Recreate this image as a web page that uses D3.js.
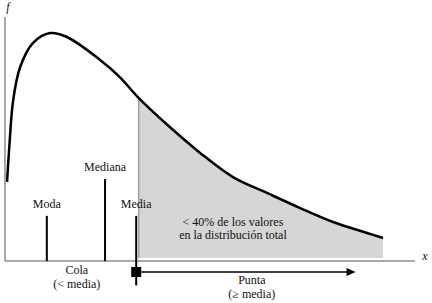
<!DOCTYPE html>
<html><head><meta charset="utf-8">
<script src="https://cdn.jsdelivr.net/npm/d3@7"></script>
<style>body{margin:0;background:#fff}svg{display:block}text{font-family:"Liberation Serif","DejaVu Serif",serif;fill:#111}</style>
</head><body>
<script>
// Density curve (x in arbitrary units 0..10, f in 0..1)
const curveX = [0.05, 0.10, 0.20, 0.37, 0.68, 1.10, 1.51, 2.32, 2.80, 3.24, 4.02, 4.76, 5.56, 6.39, 7.20, 8.00, 8.83, 9.22];
const curveF = [0.324, 0.455, 0.660, 0.795, 0.893, 0.934, 0.918, 0.824, 0.754, 0.672, 0.549, 0.443, 0.344, 0.279, 0.217, 0.160, 0.115, 0.094];
const shadeStart = 3.24;
const shadeBase = 0.012;
// Reference markers
const markerNames = ["Moda", "Mediana", "Media"];
const markerX = [1.02, 2.44, 3.20];
const markerTop = [0.185, 0.336, 0.185];
const markerBottom = [0, 0, -0.10];
const arrowEnd = 8.55;
const arrowLevel = -0.045;

const W = 432, H = 303;
const svg = d3.select("body").append("svg").attr("width", W).attr("height", H);
const x = d3.scaleLinear().domain([0, 10]).range([5, 415]);
const y = d3.scaleLinear().domain([0, 1]).range([261, 17]);

const pts = curveX.map((v, i) => [v, curveF[i]]);
const shadePts = pts.filter(p => p[0] >= shadeStart);

// shaded tail
svg.append("path")
  .attr("d", d3.area().x(d => x(d[0])).y0(y(shadeBase)).y1(d => y(d[1])).curve(d3.curveCatmullRom)(shadePts))
  .attr("fill", "#d6d6d6").attr("stroke", "none");
svg.append("line")
  .attr("x1", x(shadeStart) + 1).attr("x2", x(shadeStart) + 1)
  .attr("y1", y(shadePts[0][1])).attr("y2", y(shadeBase))
  .attr("stroke", "#8a8a8a").attr("stroke-width", 1);

// axes
svg.append("line").attr("x1", x(0)).attr("x2", x(0)).attr("y1", y(1)).attr("y2", y(0))
  .attr("stroke", "#8c8c8c").attr("stroke-width", 1.5);
svg.append("line").attr("x1", x(0)).attr("x2", x(10)).attr("y1", y(0)).attr("y2", y(0))
  .attr("stroke", "#8c8c8c").attr("stroke-width", 1.5);
svg.append("text").attr("x", x(0) + 3).attr("y", y(1) - 6).attr("font-style", "italic")
  .attr("font-size", 12).attr("text-anchor", "middle").text("f");
svg.append("text").attr("x", x(10) + 10).attr("y", y(0) - 1).attr("font-style", "italic")
  .attr("font-size", 12).attr("text-anchor", "middle").text("x");

// curve
svg.append("path")
  .attr("d", d3.line().x(d => x(d[0])).y(d => y(d[1])).curve(d3.curveCatmullRom)(pts))
  .attr("fill", "none").attr("stroke", "#000").attr("stroke-width", 2.5);

// markers
markerNames.forEach((name, i) => {
  svg.append("line").attr("x1", x(markerX[i])).attr("x2", x(markerX[i]))
    .attr("y1", y(markerTop[i])).attr("y2", y(markerBottom[i]))
    .attr("stroke", "#000").attr("stroke-width", 2);
  svg.append("text").attr("x", x(markerX[i])).attr("y", y(markerTop[i]) - 8)
    .attr("text-anchor", "middle").attr("font-size", 12).text(name);
});

// square + arrow
svg.append("rect").attr("x", x(markerX[2]) - 5).attr("y", y(arrowLevel) - 5)
  .attr("width", 10).attr("height", 10).attr("fill", "#000");
svg.append("line").attr("x1", x(markerX[2]) + 5).attr("x2", x(arrowEnd) - 6)
  .attr("y1", y(arrowLevel)).attr("y2", y(arrowLevel))
  .attr("stroke", "#000").attr("stroke-width", 1.5);
svg.append("path")
  .attr("d", `M${x(arrowEnd)},${y(arrowLevel)} L${x(arrowEnd) - 9},${y(arrowLevel) - 4} L${x(arrowEnd) - 9},${y(arrowLevel) + 4} Z`)
  .attr("fill", "#000");

// labels
const lab = (tx, ty, t) => svg.append("text").attr("x", tx).attr("y", ty)
  .attr("text-anchor", "middle").attr("font-size", 12).text(t);
lab(x(1.75), 274, "Cola");
lab(x(1.75), 288, "(< media)");
lab(x(6.02), 284, "Punta");
lab(x(6.02), 298, "(≥ media)");
lab(x(5.56), 226, "< 40% de los valores");
lab(x(5.56), 239, "en la distribución total");
</script>
</body></html>
